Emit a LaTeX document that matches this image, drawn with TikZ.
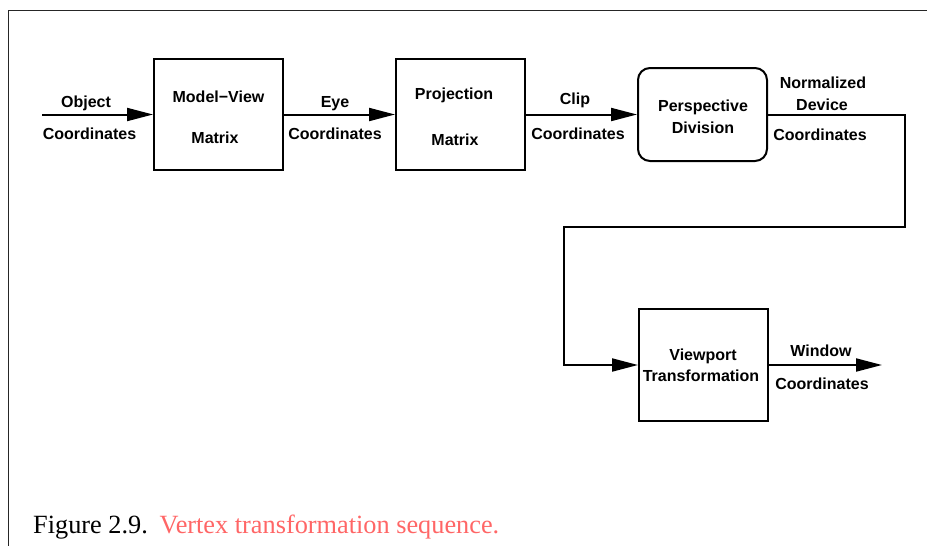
\documentclass[tikz,border=0pt]{standalone}
\usepackage{fontspec}
\setmainfont{Liberation Sans}
\newfontfamily\capfont{Liberation Serif}
\usetikzlibrary{arrows.meta}
\definecolor{capred}{RGB}{255,102,102}
\begin{document}
\begin{tikzpicture}[x=1pt,y=-1pt,
  box/.style={draw,line width=2pt,minimum width=129pt,minimum height=111pt,inner sep=0pt},
  lbl/.style={inner sep=0pt,anchor=base,font=\fontsize{16}{19}\selectfont\bfseries},
  flow/.style={line width=2pt,-{Triangle[length=26pt,width=13pt]}},
  frameline/.style={line width=1pt,black!85}]
\useasboundingbox (0,0) rectangle (927,546);
% frame
\coordinate (ftl) at (8,10);
\coordinate (ftr) at (927,10);
\coordinate (fbl) at (8,546);
\draw[frameline] (fbl) -- (ftl) -- (ftr);
% boxes
\node[box] (mv) at (218.5,114.5) {};
\node[box] (pj) at (460.5,114.5) {};
\node[box,minimum height=93pt,rounded corners=12pt] (pd) at (702.5,114.5) {};
\node[box,minimum height=112pt] (vp) at (703.5,365) {};
% connectors
\coordinate (objin) at (42,114.5);
\coordinate (c1) at (905,114.5);
\coordinate (c2) at (905,227);
\coordinate (c3) at (564,227);
\coordinate (winout) at (882,365);
\draw[flow] (objin) -- (mv.west);
\draw[flow] (mv.east) -- (pj.west);
\draw[flow] (pj.east) -- (pd.west);
\draw[flow] (pd.east) -- (c1) -- (c2) -- (c3) -- (c3 |- vp.west) -- (vp.west);
\draw[flow] (vp.east) -- (winout);
% labels
\node[lbl] (t1) at (86,107) {Object};
\node[lbl] (t2) at (89.5,139) {Coordinates};
\node[lbl] (t3) at (218.5,102) {Model−View};
\node[lbl] (t4) at (215,143) {Matrix};
\node[lbl] (t5) at (335,107) {Eye};
\node[lbl] (t6) at (335,139) {Coordinates};
\node[lbl] (t7) at (454,99) {Projection};
\node[lbl] (t8) at (455,145) {Matrix};
\node[lbl] (t9) at (575,104) {Clip};
\node[lbl] (t10) at (578,139) {Coordinates};
\node[lbl] (t11) at (703,111) {Perspective};
\node[lbl] (t12) at (703,133) {Division};
\node[lbl] (t13) at (823,88) {Normalized};
\node[lbl] (t14) at (822,110) {Device};
\node[lbl] (t15) at (820,140) {Coordinates};
\node[lbl] (t16) at (703,360) {Viewport};
\node[lbl] (t17) at (701,381) {Transformation};
\node[lbl] (t18) at (821,356) {Window};
\node[lbl] (t19) at (822,389) {Coordinates};
% caption
\node[inner sep=0pt,anchor=base west,font=\capfont\fontsize{26.3}{31}\selectfont] (cap) at (33,533)
  {Figure 2.9.\hspace{3pt} \textcolor{capred}{Vertex transformation sequence.}};
\end{tikzpicture}
\end{document}
